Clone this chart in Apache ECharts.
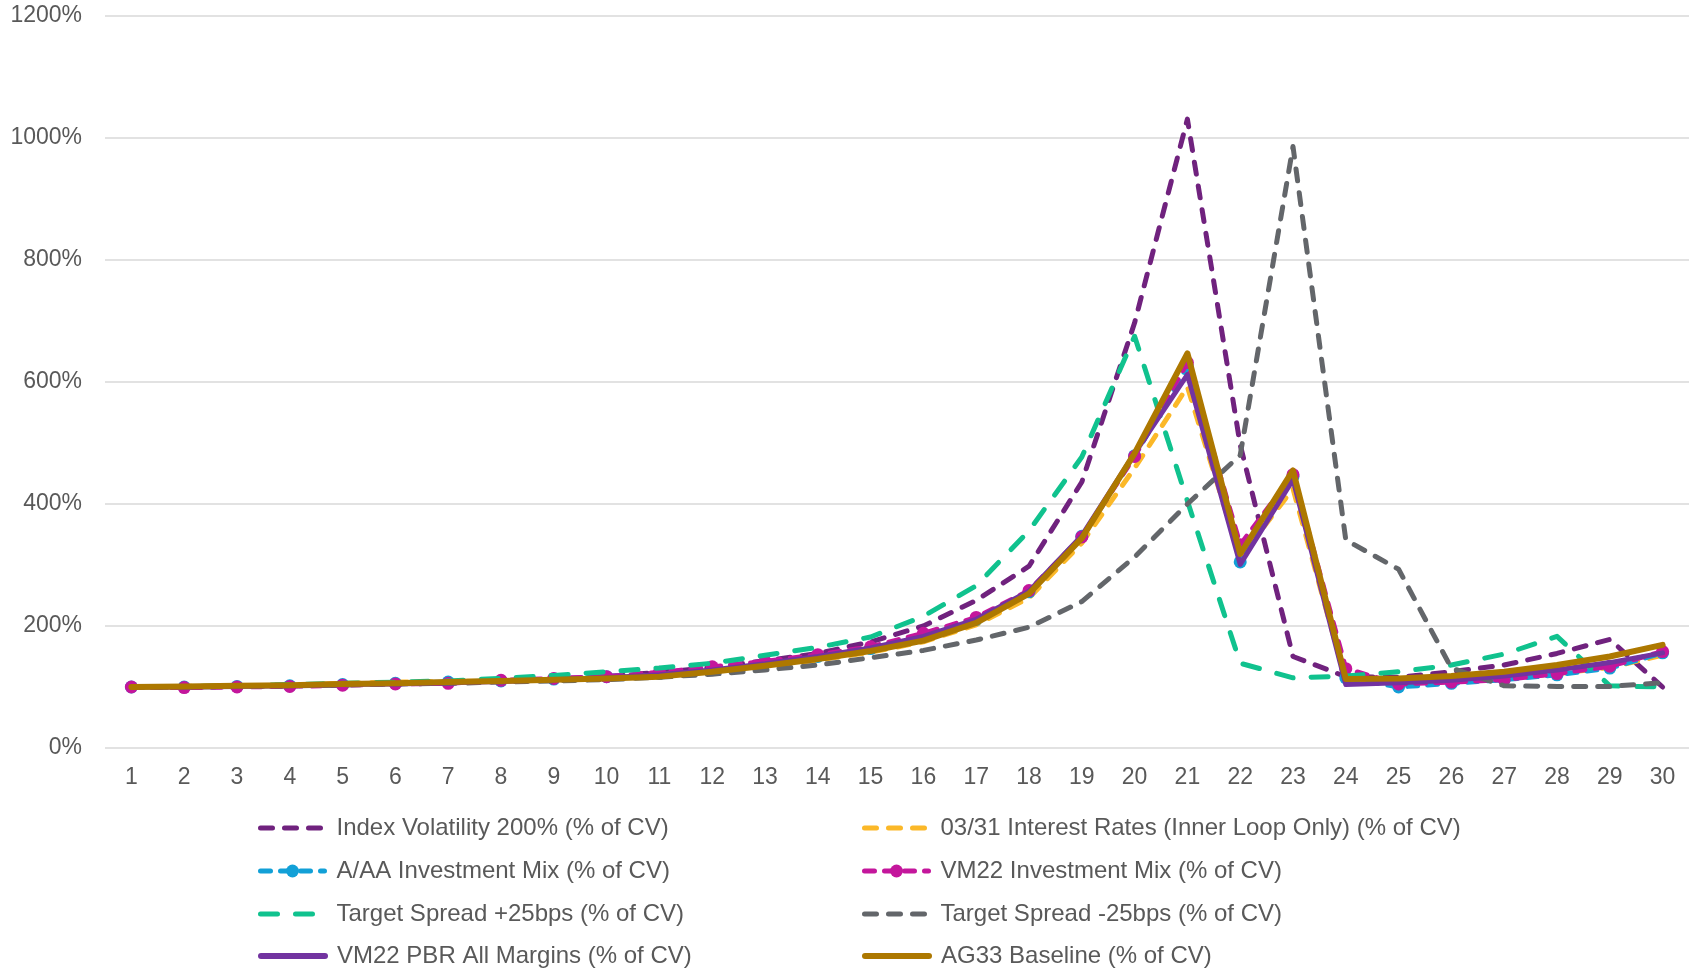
<!DOCTYPE html>
<html>
<head>
<meta charset="utf-8">
<title>% of CV by projection year</title>
<script src="https://cdn.jsdelivr.net/npm/echarts@6/dist/echarts.min.js"></script>
<style>
  html, body { margin: 0; padding: 0; background: #ffffff; }
  #chart { width: 1700px; height: 970px; }
</style>
</head>
<body>
<div id="chart"></div>
<script>
// Projection years 1..30
const years = ['1','2','3','4','5','6','7','8','9','10','11','12','13','14','15','16','17','18','19','20','21','22','23','24','25','26','27','28','29','30'];

// Y-axis ticks (percent of CV)
const yTicks = [0, 200, 400, 600, 800, 1000, 1200];

// Series names
const seriesNames = [
  'Index Volatility 200% (% of CV)',
  '03/31 Interest Rates (Inner Loop Only) (% of CV)',
  'A/AA Investment Mix (% of CV)',
  'VM22 Investment Mix (% of CV)',
  'Target Spread +25bps (% of CV)',
  'Target Spread -25bps (% of CV)',
  'VM22 PBR All Margins (% of CV)',
  'AG33 Baseline (% of CV)'
];

// Values, % of CV
const indexVol200 = [100,100,102,103,105,106,108,110,112,117,124,132,143,155,174,200,242,298,436,697,1031,497,150,117,116,125,136,155,178,100];
const rates0331   = [100,101,102,103,106,108,109,110,112,115,120,126,134,144,157,174,202,246,336,459,592,312,425,110,106,109,114,122,132,152];
const aaMix       = [100,100,101,102,104,106,108,110,113,117,122,130,139,150,163,183,211,256,347,479,625,305,445,115,100,106,112,120,131,156];
const vm22Mix     = [100,99,100,101,103,105,106,111,114,117,124,133,142,153,166,188,214,258,346,478,632,333,448,130,105,108,112,122,134,158];
const spreadPlus  = [100,101,102,104,106,108,110,114,119,125,131,139,152,165,182,216,266,356,477,675,405,139,115,118,125,136,154,183,102,100];
const spreadMinus = [100,100,101,102,103,105,106,108,110,112,116,121,128,136,148,160,177,198,240,313,400,480,986,341,293,131,102,101,101,107];
const vm22Pbr     = [100,100,101,102,104,105,107,109,112,115,120,128,138,150,164,183,211,257,348,483,612,301,440,104,107,111,118,128,140,156];
const ag33Base    = [100,101,102,103,105,106,108,110,112,114,117,125,135,146,159,176,205,253,344,483,647,318,455,113,114,118,125,136,150,169];

const seriesValues = [indexVol200, rates0331, aaMix, vm22Mix, spreadPlus, spreadMinus, vm22Pbr, ag33Base];

const colors = ['#70227E', '#FBB828', '#12A0D7', '#C4169C', '#10C28E', '#63666A', '#7233A0', '#AD7800'];

const FONT = "'Liberation Sans', Arial, sans-serif";
const TEXT = '#595959';

// Line look per series: dash pattern, width, markers
const looks = [
  { type: [12, 12], width: 5, symbol: 'none' },
  { type: [12, 12], width: 5, symbol: 'none' },
  { type: [10, 10], width: 5, symbol: 'circle' },
  { type: [10, 10], width: 5, symbol: 'circle' },
  { type: [17, 18], width: 5, symbol: 'none' },
  { type: [12, 12], width: 5, symbol: 'none' },
  { type: 'solid',  width: 5, symbol: 'none' },
  { type: 'solid',  width: 6, symbol: 'none' }
];

const series = seriesNames.map((name, i) => ({
  name: name,
  type: 'line',
  data: seriesValues[i],
  symbol: looks[i].symbol,
  symbolSize: 13,
  showSymbol: looks[i].symbol !== 'none',
  color: colors[i],
  itemStyle: { color: colors[i], borderWidth: 0 },
  lineStyle: { color: colors[i], width: looks[i].width, type: looks[i].type, cap: 'round', join: 'round' },
  emphasis: { disabled: true },
  z: 2 + i
}));

// Two-column legend: one component per entry, placed on a 2x4 layout.
// Lines without markers get an invisible legend dot so only the stroke shows.
const legendCols = [258, 862];
const legendRows = [827, 870, 913, 955];
const legends = seriesNames.map((name, i) => ({
  data: [looks[i].symbol === 'none'
    ? { name: name, itemStyle: { opacity: 0 } }
    : { name: name }],
  left: legendCols[i % 2],
  top: legendRows[Math.floor(i / 2)] - 12,
  padding: 0,
  itemWidth: 64,
  itemHeight: 16,
  selectedMode: false,
  lineStyle: { width: looks[i].type === 'solid' ? 6 : 5, cap: 'round' },
  textStyle: { fontSize: 24, color: TEXT, fontFamily: FONT, lineHeight: 26, padding: [0, 0, 0, 7] }
}));

const chart = echarts.init(document.getElementById('chart'), null, { renderer: 'canvas' });
chart.setOption({
  animation: false,
  backgroundColor: '#ffffff',
  grid: { left: 105, right: 11, top: 16, bottom: 222 },
  legend: legends,
  xAxis: {
    type: 'category',
    data: years,
    boundaryGap: true,
    axisLine: { show: false },
    axisTick: { show: false },
    axisLabel: { color: TEXT, fontSize: 23, fontFamily: FONT, margin: 18 }
  },
  yAxis: {
    type: 'value',
    min: yTicks[0],
    max: yTicks[yTicks.length - 1],
    interval: yTicks[1] - yTicks[0],
    axisLine: { show: false },
    axisTick: { show: false },
    splitLine: { lineStyle: { color: '#D9D9D9', width: 1.5 } },
    axisLabel: { color: TEXT, fontSize: 23, fontFamily: FONT, margin: 23, formatter: (v) => v + '%' }
  },
  series: series
});
</script>
</body>
</html>
